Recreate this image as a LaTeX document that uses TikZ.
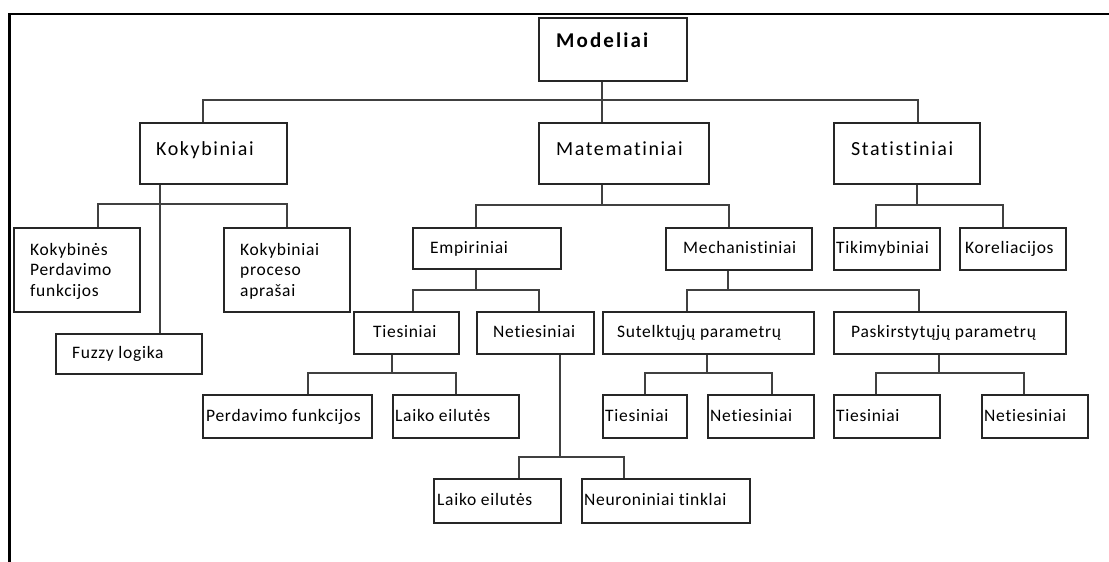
\documentclass[tikz,border=0pt]{standalone}
\usepackage{fontspec}
\usetikzlibrary{calc}
\newfontfamily\topfont[LetterSpace=8,Ligatures={NoCommon,NoContextual}]{Carlito}
\newfontfamily\midfont[LetterSpace=4,Ligatures={NoCommon,NoContextual}]{Carlito}
\newfontfamily\headfont[LetterSpace=10,Ligatures={NoCommon,NoContextual}]{Carlito}
\tikzset{
  box/.style={draw=black!85, line width=1.8pt, fill=white, rectangle, inner sep=0pt},
  lbl/.style={anchor=base west, inner sep=0pt, text=black},
  fb/.style={font=\headfont\bfseries\fontsize{21}{25}\selectfont},
  ft/.style={font=\topfont\fontsize{20}{24}\selectfont},
  fm/.style={font=\midfont\fontsize{17.5}{20.8}\selectfont},
  conn/.style={draw=black!75, line width=1.8pt},
  frame/.style={draw=black, line width=2.7pt}
}
% box: font style, name, left, top, right, bottom, text x, text baseline, text
\newcommand\mkbox[9]{%
  \node[box, anchor=north west, minimum width={#5-#3}, minimum height={#6-#4}] (#2) at (#3,#4) {};
  \node[lbl, #1] (#2-t) at (#7,#8) {#9};
}
\newcommand\stack[1]{\begin{tabular}[t]{@{}l@{}}#1\end{tabular}}
\begin{document}
\begin{tikzpicture}[x=1pt, y=-1pt]
\useasboundingbox (0,0) rectangle (1109,562);
\fill[white] (0,0) rectangle (1109,562);
% outer frame
\draw[frame] (1109,14) -- (9.7,14) -- (9.7,562);

% junction points of the connector buses
\coordinate (j0) at (602,100);
\coordinate (j1) at (160,204);
\coordinate (j2) at (602,205);
\coordinate (j3) at (917,205);
\coordinate (j4) at (476,290);
\coordinate (j5) at (728,290);
\coordinate (j6) at (392,373);
\coordinate (j7) at (560,457);
\coordinate (j8) at (707,373);
\coordinate (j9) at (939,373);

% boxes
\mkbox{fb}{mod}{538}{17}{686}{80}{556}{47}{Modeliai}
\mkbox{ft}{kok}{139}{122}{286}{183}{156}{155}{Kokybiniai}
\mkbox{ft}{mat}{538}{122}{708}{183}{556}{155}{Matematiniai}
\mkbox{ft}{sta}{833}{122}{979}{183}{851}{155}{Statistiniai}

\mkbox{fm}{kp}{13}{227}{139}{311}{30}{255}{\stack{Kokybinės\\Perdavimo\\funkcijos}}
\mkbox{fm}{kpa}{223}{227}{349}{311}{240}{255}{\stack{Kokybiniai\\proceso\\aprašai}}
\mkbox{fm}{fuz}{55}{333}{201}{373}{72}{358}{Fuzzy logika}

\mkbox{fm}{emp}{412}{227}{560}{268}{430}{253}{Empiriniai}
\mkbox{fm}{mech}{665}{227}{811}{269}{683}{253}{Mechanistiniai}
\mkbox{fm}{tik}{833}{227}{939}{269}{836}{253}{Tikimybiniai}
\mkbox{fm}{kor}{959}{227}{1065}{269}{965}{253}{Koreliacijos}

\mkbox{fm}{tie1}{353}{311}{458}{353}{373}{337}{Tiesiniai}
\mkbox{fm}{net1}{476}{311}{593}{353}{493}{337}{Netiesiniai}
\mkbox{fm}{sut}{602}{311}{813}{353}{617}{337}{Sutelktųjų parametrų}
\mkbox{fm}{pas}{833}{311}{1065}{353}{851}{337}{Paskirstytųjų parametrų}

\mkbox{fm}{per}{202}{394}{371}{437}{206}{421}{Perdavimo funkcijos}
\mkbox{fm}{lai1}{392}{394}{518}{437}{395}{421}{Laiko eilutės}
\mkbox{fm}{tie2}{602}{394}{686}{437}{605}{421}{Tiesiniai}
\mkbox{fm}{net2}{707}{394}{813}{437}{710}{421}{Netiesiniai}
\mkbox{fm}{tie3}{833}{394}{939}{437}{836}{421}{Tiesiniai}
\mkbox{fm}{net3}{981}{394}{1087}{437}{984}{421}{Netiesiniai}

\mkbox{fm}{lai2}{433}{478}{560}{522}{437}{505}{Laiko eilutės}
\mkbox{fm}{neu}{581}{478}{749}{522}{584}{505}{Neuroniniai tinklai}

% connectors
\draw[conn] (j0 |- mod.south) -- (j0 |- mat.north);
\draw[conn] ([xshift=-10.5pt]kok.north) |- (j0) -| ([xshift=11pt]sta.north);

\draw[conn] (j1 |- kok.south) -- (j1 |- fuz.north);
\draw[conn] ([xshift=21pt]kp.north) |- (j1) -| (kpa.north);

\draw[conn] (j2 |- mat.south) -- (j2);
\draw[conn] ([xshift=-11pt]emp.north) |- (j2) -| ([xshift=-10pt]mech.north);

\draw[conn] (j3 |- sta.south) -- (j3);
\draw[conn] ([xshift=-11pt]tik.north) |- (j3) -| ([xshift=-10pt]kor.north);

\draw[conn] (j4 |- emp.south) -- (j4);
\draw[conn] ([xshift=6.5pt]tie1.north) |- (j4) -| ([xshift=3.5pt]net1.north);

\draw[conn] (j5 |- mech.south) -- (j5);
\draw[conn] ([xshift=-21.5pt]sut.north) |- (j5) -| ([xshift=-31pt]pas.north);

\draw[conn] (j6 |- tie1.south) -- (j6);
\draw[conn] ([xshift=20.5pt]per.north) |- (j6) -| (lai1.north);

\draw[conn] (j7 |- net1.south) -- (j7);
\draw[conn] ([xshift=21.5pt]lai2.north) |- (j7) -| ([xshift=-42pt]neu.north);

\draw[conn] (j8 |- sut.south) -- (j8);
\draw[conn] (tie2.north) |- (j8) -| ([xshift=11pt]net2.north);

\draw[conn] (j9 |- pas.south) -- (j9);
\draw[conn] ([xshift=-11pt]tie3.north) |- (j9) -| ([xshift=-11pt]net3.north);
\end{tikzpicture}
\end{document}
